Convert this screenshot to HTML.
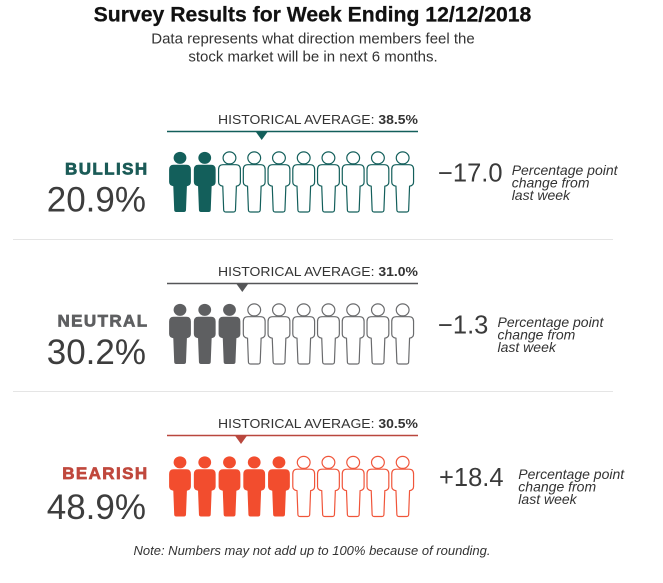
<!DOCTYPE html>
<html>
<head>
<meta charset="utf-8">
<style>
  html,body{margin:0;padding:0;background:#fff;}
  svg{display:block;}
  text{font-family:"Liberation Sans",Arial,sans-serif;}
</style>
</head>
<body>
<svg width="663" height="583" viewBox="0 0 663 583" xmlns="http://www.w3.org/2000/svg">
  <defs>
    <path id="body" d="M4.3 12.7 L17.1 12.7 Q21.6 12.7 21.6 17.5 L21.6 30 Q21.6 33.5 17.6 34.2 L16.7 58 Q16.6 60 14.6 60 L7 60 Q5 60 4.9 58 L4 34.2 Q-0.2 33.5 -0.2 30 L-0.2 17.5 Q-0.2 12.7 4.3 12.7 Z"/>
    <ellipse id="head" cx="10.7" cy="5.9" rx="6.4" ry="6.0"/>
    <g id="pf">
      <use href="#head"/><use href="#body"/>
    </g>
  </defs>

  <!-- Title -->
  <text x="312.5" y="21.7" text-anchor="middle" font-size="21.2" font-weight="bold" fill="#111" stroke="#111" stroke-width="0.25">Survey Results for Week Ending 12/12/2018</text>
  <text x="313" y="43.3" text-anchor="middle" font-size="15" fill="#333">Data represents what direction members feel the</text>
  <text x="313" y="61.7" text-anchor="middle" font-size="15" fill="#333">stock market will be in next 6 months.</text>

  <!-- ===== BULLISH ===== -->
  <text x="218" y="124" font-size="13" fill="#333" textLength="200" lengthAdjust="spacingAndGlyphs">HISTORICAL AVERAGE: <tspan font-weight="bold">38.5%</tspan></text>
  <line x1="167" y1="131.5" x2="418" y2="131.5" stroke="#135f5b" stroke-width="1.6"/>
  <polygon points="255.2,131 268.2,131 261.7,140" fill="#135f5b"/>
  <text x="148.5" y="174.3" text-anchor="end" font-size="17" font-weight="bold" letter-spacing="1.4" fill="#1b5b57" stroke="#1b5b57" stroke-width="0.7">BULLISH</text>
  <text x="146" y="211.7" text-anchor="end" font-size="35" fill="#3d3d3d">20.9%</text>
  <text x="438" y="181.7" font-size="25.5" fill="#3a3a3a">−17.0</text>
  <text x="511.7" y="175" font-size="14" font-style="italic" fill="#333">Percentage point</text>
  <text x="511.7" y="187.5" font-size="14" font-style="italic" fill="#333">change from</text>
  <text x="511.7" y="200" font-size="14" font-style="italic" fill="#333">last week</text>
  <g fill="#135f5b">
    <use href="#pf" x="169.3" y="152"/>
    <use href="#pf" x="194.04" y="152"/>
  </g>
  <g fill="#fff" stroke="#135f5b" stroke-width="1.2">
    <use href="#pf" x="218.78" y="152"/>
    <use href="#pf" x="243.52" y="152"/>
    <use href="#pf" x="268.26" y="152"/>
    <use href="#pf" x="293.0" y="152"/>
    <use href="#pf" x="317.74" y="152"/>
    <use href="#pf" x="342.48" y="152"/>
    <use href="#pf" x="367.22" y="152"/>
    <use href="#pf" x="391.96" y="152"/>
  </g>

  <line x1="13" y1="239.5" x2="613" y2="239.5" stroke="#e5e5e5" stroke-width="1"/>

  <!-- ===== NEUTRAL ===== -->
  <text x="218" y="276" font-size="13" fill="#333" textLength="200" lengthAdjust="spacingAndGlyphs">HISTORICAL AVERAGE: <tspan font-weight="bold">31.0%</tspan></text>
  <line x1="167" y1="283.5" x2="418" y2="283.5" stroke="#555658" stroke-width="1.6"/>
  <polygon points="235.8,283 248.8,283 242.3,292" fill="#555658"/>
  <text x="148.5" y="326.5" text-anchor="end" font-size="17" font-weight="bold" letter-spacing="1.4" fill="#5e5f61" stroke="#5e5f61" stroke-width="0.7">NEUTRAL</text>
  <text x="146" y="363.8" text-anchor="end" font-size="35" fill="#3d3d3d">30.2%</text>
  <text x="438" y="333.7" font-size="25.5" fill="#3a3a3a">−1.3</text>
  <text x="497.5" y="327" font-size="14" font-style="italic" fill="#333">Percentage point</text>
  <text x="497.5" y="339.5" font-size="14" font-style="italic" fill="#333">change from</text>
  <text x="497.5" y="352" font-size="14" font-style="italic" fill="#333">last week</text>
  <g fill="#5e5f61">
    <use href="#pf" x="169.3" y="304"/>
    <use href="#pf" x="194.04" y="304"/>
    <use href="#pf" x="218.78" y="304"/>
  </g>
  <g fill="#fff" stroke="#6a6b6d" stroke-width="1.2">
    <use href="#pf" x="243.52" y="304"/>
    <use href="#pf" x="268.26" y="304"/>
    <use href="#pf" x="293.0" y="304"/>
    <use href="#pf" x="317.74" y="304"/>
    <use href="#pf" x="342.48" y="304"/>
    <use href="#pf" x="367.22" y="304"/>
    <use href="#pf" x="391.96" y="304"/>
  </g>

  <line x1="13" y1="391.5" x2="613" y2="391.5" stroke="#e5e5e5" stroke-width="1"/>

  <!-- ===== BEARISH ===== -->
  <text x="218" y="428" font-size="13" fill="#333" textLength="200" lengthAdjust="spacingAndGlyphs">HISTORICAL AVERAGE: <tspan font-weight="bold">30.5%</tspan></text>
  <line x1="167" y1="435.5" x2="418" y2="435.5" stroke="#b9473d" stroke-width="1.6"/>
  <polygon points="234.5,435 247.5,435 241,444" fill="#b9473d"/>
  <text x="148.5" y="478.8" text-anchor="end" font-size="17" font-weight="bold" letter-spacing="1.4" fill="#c0483d" stroke="#c0483d" stroke-width="0.7">BEARISH</text>
  <text x="146" y="519" text-anchor="end" font-size="35" fill="#3d3d3d">48.9%</text>
  <text x="439" y="486.2" font-size="25.5" fill="#3a3a3a">+18.4</text>
  <text x="518.3" y="479" font-size="14" font-style="italic" fill="#333">Percentage point</text>
  <text x="518.3" y="491.5" font-size="14" font-style="italic" fill="#333">change from</text>
  <text x="518.3" y="504" font-size="14" font-style="italic" fill="#333">last week</text>
  <g fill="#f24d2e">
    <use href="#pf" x="169.3" y="456.5"/>
    <use href="#pf" x="194.04" y="456.5"/>
    <use href="#pf" x="218.78" y="456.5"/>
    <use href="#pf" x="243.52" y="456.5"/>
    <use href="#pf" x="268.26" y="456.5"/>
  </g>
  <g fill="#fff" stroke="#f0553a" stroke-width="1.2">
    <use href="#pf" x="293.0" y="456.5"/>
    <use href="#pf" x="317.74" y="456.5"/>
    <use href="#pf" x="342.48" y="456.5"/>
    <use href="#pf" x="367.22" y="456.5"/>
    <use href="#pf" x="391.96" y="456.5"/>
  </g>

  <!-- Note -->
  <text x="312" y="555" text-anchor="middle" font-size="13" font-style="italic" fill="#333">Note: Numbers may not add up to 100% because of rounding.</text>
</svg>
</body>
</html>
